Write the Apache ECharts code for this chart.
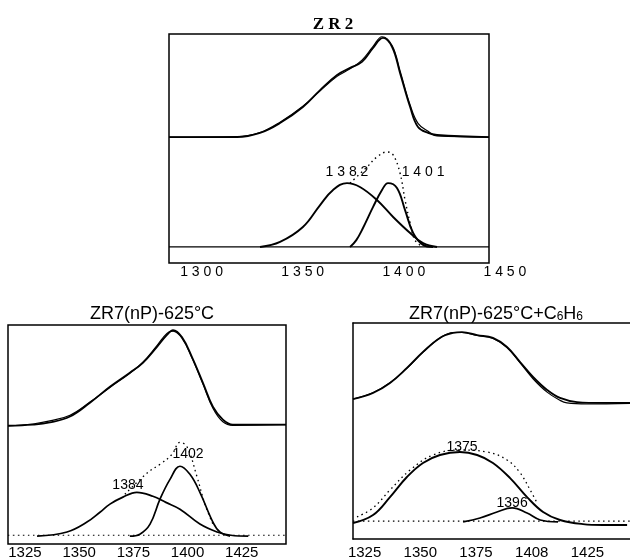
<!DOCTYPE html>
<html>
<head>
<meta charset="utf-8">
<script src="https://cdn.jsdelivr.net/npm/echarts@6/dist/echarts.min.js"></script>
<style>
html, body { margin: 0; padding: 0; background: #fff; }
#main { width: 630px; height: 560px; }
</style>
</head>
<body>
<div id="main"></div>
<script>
// ---- ZR2 (top panel) ----
var topTicks = [1300, 1350, 1400, 1450];
var topMeasured = [[1283.9,55.0],[1317.5,55.0],[1328.9,56.8],[1338.8,61.1],[1350.1,68.1],[1358.6,75.5],[1367.0,82.1],[1373.4,85.2],[1379.3,87.8],[1384.8,93.9],[1389.7,98.3],[1394.2,94.3],[1398.1,83.0],[1403.1,68.1],[1407.0,59.4],[1412.0,56.8],[1416.4,55.9],[1442.1,55.0]];
var topFit = [[1283.9,55.0],[1317.5,55.2],[1328.9,57.0],[1338.8,61.5],[1350.1,68.5],[1358.6,75.2],[1367.0,81.5],[1373.4,84.8],[1379.3,88.6],[1384.8,94.6],[1389.2,98.8],[1394.2,95.0],[1398.1,84.0],[1403.1,69.0],[1407.0,61.0],[1412.0,57.5],[1416.4,55.5],[1442.1,55.0]];
var topBroad = [[1328.9,7.0],[1338.8,9.2],[1350.1,15.7],[1358.6,25.3],[1365.0,31.9],[1371.9,34.9],[1378.3,33.2],[1386.7,27.5],[1394.7,20.1],[1403.1,13.1],[1409.5,8.7],[1416.4,7.0]];
var topNarrow = [[1373.4,7.0],[1376.5,10.0],[1379.8,15.3],[1384.8,24.5],[1389.2,31.9],[1392.2,34.9],[1396.6,32.8],[1400.6,23.1],[1404.6,13.1],[1409.5,7.9],[1414.4,7.0]];
var topSum = [[1373.4,34.9],[1381.8,41.9],[1386.7,46.3],[1391.7,48.5],[1394.7,47.2],[1398.1,39.3],[1400.6,27.5],[1403.1,17.5],[1405.5,10.0],[1409.5,7.0]];
var topBase = [[1283.9,7.0],[1442.1,7.0]];
var topPeaks = [[1371.9,39.7,'1382'],[1409.5,39.7,'1401']];

// ---- ZR7(nP)-625°C (bottom left) ----
var blTicks = [1325, 1350, 1375, 1400, 1425];
var blMeasured = [[1317.2,54.0],[1328.7,54.5],[1336.5,55.5],[1345.8,58.2],[1355.0,64.5],[1364.2,71.8],[1373.4,78.2],[1379.4,82.7],[1385.9,90.0],[1390.5,95.5],[1393.3,97.7],[1397.4,94.5],[1402.0,85.5],[1407.1,73.6],[1411.7,62.7],[1416.3,56.8],[1420.9,54.5],[1445.4,54.5]];
var blFit = [[1317.2,54.0],[1328.7,54.8],[1336.5,56.2],[1345.8,58.8],[1355.0,64.8],[1364.2,71.5],[1373.4,78.0],[1379.4,83.0],[1385.9,90.6],[1390.5,96.2],[1393.3,97.2],[1397.4,94.0],[1402.0,85.0],[1407.1,73.0],[1411.7,62.0],[1416.3,55.8],[1420.9,54.2],[1445.4,54.5]];
var blBroad = [[1330.6,3.6],[1344.4,5.5],[1353.6,10.0],[1359.6,14.5],[1364.2,18.2],[1370.2,21.4],[1376.6,23.6],[1384.0,21.8],[1390.0,19.0],[1396.5,15.9],[1405.7,9.1],[1413.6,5.5],[1420.0,4.0],[1428.0,3.6]];
var blNarrow = [[1373.4,3.6],[1378.0,4.5],[1382.7,9.1],[1387.3,20.5],[1391.9,29.5],[1396.5,35.5],[1401.1,31.8],[1405.7,23.6],[1411.7,10.0],[1414.9,5.5],[1419.6,3.6]];
var blSum = [[1371.1,22.7],[1381.7,32.7],[1387.3,36.4],[1392.8,40.9],[1396.5,46.4],[1399.7,44.5],[1404.3,30.9],[1408.0,18.2],[1411.7,9.1]];
var blBase = [[1317.2,4.0],[1445.4,4.0]];
var blPeaks = [[1372.5,26.8,'1384'],[1400.2,40.9,'1402']];

// ---- ZR7(nP)-625°C+C6H6 (bottom right) ----
var brTicks = [1325, 1350, 1375, 1400, 1425];
var brTickText = ['1325', '1350', '1375', '1408', '1425'];
var brMeasured = [[1319.8,64.8],[1328.8,67.6],[1336.4,72.2],[1344.0,79.2],[1351.2,86.6],[1358.8,93.1],[1364.7,95.4],[1368.7,95.8],[1375.5,94.4],[1382.6,93.1],[1388.9,88.9],[1394.8,81.9],[1400.6,75.0],[1406.9,69.0],[1412.7,65.3],[1420.3,63.4],[1432.0,63.0],[1444.1,63.0]];
var brFit = [[1319.8,64.8],[1328.8,67.8],[1336.4,72.4],[1344.0,79.0],[1351.2,86.4],[1358.8,93.0],[1364.7,95.6],[1368.7,95.6],[1375.5,94.2],[1382.6,92.8],[1388.9,88.6],[1394.8,81.5],[1400.6,74.2],[1406.9,68.0],[1412.7,64.2],[1415.8,63.0],[1424.8,62.5],[1444.1,62.8]];
var brBroad = [[1319.8,7.4],[1328.8,11.1],[1336.4,19.4],[1344.0,28.7],[1351.2,35.2],[1358.8,38.9],[1367.8,40.3],[1375.5,38.9],[1382.6,35.2],[1390.3,28.2],[1397.9,19.4],[1405.1,12.5],[1412.7,8.8],[1423.0,6.9],[1432.0,6.5],[1442.8,6.5]];
var brNarrow = [[1369.2,7.9],[1376.8,9.7],[1384.4,12.5],[1391.2,14.4],[1397.9,12.0],[1403.8,8.8],[1411.8,7.9]];
var brSum = [[1321.6,10.2],[1328.8,14.4],[1336.4,22.7],[1345.4,31.9],[1355.7,38.9],[1367.8,41.2],[1379.9,40.3],[1388.9,36.6],[1394.8,30.6],[1399.3,22.7],[1402.4,16.7]];
var brBase = [[1319.8,8.3],[1444.1,8.3]];
var brPeaks = [[1368.7,42.6,'1375'],[1391.2,16.7,'1396']];

var chart = echarts.init(document.getElementById('main'));

function line(idx, data, width, dotted) {
	return {
		type: 'line',
		xAxisIndex: idx,
		yAxisIndex: idx,
		data: data,
		smooth: 0.4,
		showSymbol: false,
		silent: true,
		lineStyle: {
			color: '#000',
			width: width,
			type: dotted ? [1.5, 3.5] : 'solid'
		}
	};
}

function peakText(idx, data, spaced) {
	return {
		type: 'scatter',
		xAxisIndex: idx,
		yAxisIndex: idx,
		data: data,
		symbolSize: 1,
		itemStyle: { color: 'rgba(0,0,0,0)', opacity: 1 },
		silent: true,
		label: {
			show: true,
			position: 'inside',
			color: '#000',
			opacity: 1,
			textBorderWidth: 0,
			fontFamily: 'Liberation Sans',
			fontSize: 14,
			formatter: function (p) {
				return spaced ? p.value[2].split('').join(' ') : p.value[2];
			}
		}
	};
}

function valueAxis(grid, min, max) {
	return {
		type: 'value',
		gridIndex: grid,
		min: min,
		max: max,
		splitLine: { show: false },
		axisLine: { show: false },
		axisTick: { show: false },
		axisLabel: { show: false }
	};
}

var boxGrid = { show: true, borderColor: '#000', borderWidth: 1.5, backgroundColor: 'transparent', containLabel: false };
var frame = { show: true, onZero: false, lineStyle: { color: '#000', width: 1.5 } };

var xTop = valueAxis(0, 1283.9, 1442.1);
var xTopLabels = valueAxis(1, 1300, 1450);
xTopLabels.interval = 50;
xTopLabels.axisLabel = {
	show: true, margin: 2, color: '#000', fontSize: 14, fontFamily: 'Liberation Sans',
	formatter: function (v) { return topTicks.indexOf(v) >= 0 ? String(v).split('').join(' ') : ''; }
};
var xBL = valueAxis(2, 1317.2, 1445.4);
xBL.axisLabel = {
	show: true, margin: 1, color: '#000', fontSize: 15, fontFamily: 'Liberation Sans',
	customValues: blTicks,
	formatter: function (v) { return String(v); }
};
// bottom right panel runs off the right edge of the page: frame drawn with axis lines, no right side
var xBR = valueAxis(3, 1319.8, 1444.1);
xBR.axisLine = frame;
xBR.axisLabel = {
	show: true, margin: 6, color: '#000', fontSize: 15, fontFamily: 'Liberation Sans',
	customValues: brTicks,
	formatter: function (v) { return brTickText[brTicks.indexOf(v)]; }
};
var xBRTop = valueAxis(3, 1319.8, 1444.1);
xBRTop.position = 'top';
xBRTop.axisLine = frame;
var yBR = valueAxis(3, 0, 100);
yBR.axisLine = frame;

option = {
	animation: false,
	backgroundColor: '#fff',
	title: [{
		text: 'Z R 2',
		left: 328, top: 11, textAlign: 'center',
		textStyle: { fontFamily: 'Liberation Serif', fontWeight: 'bold', fontSize: 17, color: '#000' }
	}, {
		text: 'ZR7(nP)-625°C',
		left: 147, top: 300, textAlign: 'center',
		textStyle: { fontFamily: 'Liberation Sans', fontWeight: 'normal', fontSize: 18, color: '#000' }
	}, {
		text: '{a|ZR7(nP)-625°C+C}{s|6}{a|H}{s|6}',
		left: 491, top: 300, textAlign: 'center',
		textStyle: {
			fontFamily: 'Liberation Sans', fontWeight: 'normal', fontSize: 18, color: '#000',
			rich: {
				a: { fontFamily: 'Liberation Sans', fontSize: 18, lineHeight: 18, verticalAlign: 'top', color: '#000' },
				s: { fontFamily: 'Liberation Sans', fontSize: 12, lineHeight: 12, padding: [9, 0, 0, 0], verticalAlign: 'bottom', color: '#000' }
			}
		}
	}],
	grid: [
		Object.assign({ left: 169, top: 34, width: 320, height: 229 }, boxGrid),
		{ left: 201.6, top: 34, width: 303.3, height: 229, show: false },
		Object.assign({ left: 8, top: 325, width: 278, height: 220 }, boxGrid),
		{ left: 353, top: 323, width: 277, height: 216, show: false }
	],
	xAxis: [xTop, xTopLabels, xBL, xBR, xBRTop],
	yAxis: [valueAxis(0, 0, 100), valueAxis(1, 0, 100), valueAxis(2, 0, 100), yBR],
	series: [
		line(0, topBase, 1.3, false),
		line(0, topMeasured, 1.8, false),
		line(0, topFit, 1.2, false),
		line(0, topBroad, 1.9, false),
		line(0, topNarrow, 1.9, false),
		line(0, topSum, 1.4, true),
		peakText(0, topPeaks, true),

		line(2, blBase, 1.2, true),
		line(2, blMeasured, 1.8, false),
		line(2, blFit, 1.2, false),
		line(2, blBroad, 1.7, false),
		line(2, blNarrow, 1.7, false),
		line(2, blSum, 1.3, true),
		peakText(2, blPeaks, false),

		line(3, brBase, 1.2, true),
		line(3, brMeasured, 1.8, false),
		line(3, brFit, 1.2, false),
		line(3, brBroad, 1.9, false),
		line(3, brNarrow, 1.7, false),
		line(3, brSum, 1.3, true),
		peakText(3, brPeaks, false)
	]
};
chart.setOption(option);
window.addEventListener("resize", function() {
	chart.resize();
});
</script>
</body>
</html>
